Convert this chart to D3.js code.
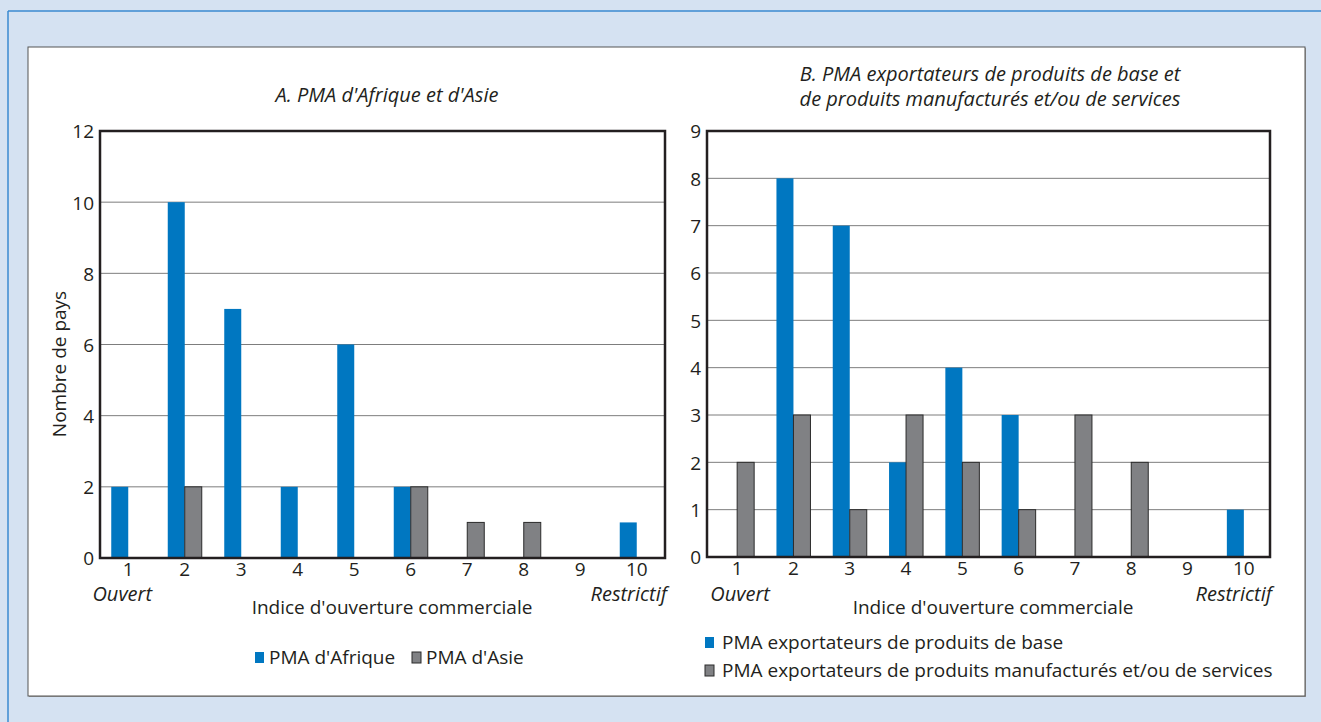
<!DOCTYPE html>
<html>
<head>
<meta charset="utf-8">
<script src="https://cdn.jsdelivr.net/npm/d3@7"></script>
<style>
  body { margin: 0; background: #fff; }
  svg text { font-family: "Open Sans", "Noto Sans", sans-serif; fill: #231f20; }
</style>
</head>
<body>
<script>
// categories of the openness index
const categories = [1, 2, 3, 4, 5, 6, 7, 8, 9, 10];

// panel A
const afriqueValues = [2, 10, 7, 2, 6, 2, 0, 0, 0, 1];
const asieValues = [0, 2, 0, 0, 0, 2, 1, 1, 0, 0];
const ticksA = [0, 2, 4, 6, 8, 10, 12];

// panel B
const baseValues = [0, 8, 7, 2, 4, 3, 0, 0, 0, 1];
const manufValues = [2, 3, 1, 3, 2, 1, 3, 2, 0, 0];
const ticksB = [0, 1, 2, 3, 4, 5, 6, 7, 8, 9];

const blue = '#0077c1';
const grey = '#808184';
const fs = '19px';   // regular text
const fsi = '20px';  // italic text

const width = 1321;
const height = 722;

const svg = d3.select('body')
  .append('svg')
  .attr('width', width)
  .attr('height', height);

// background and frame
svg.append('rect').attr('width', width).attr('height', height).attr('fill', '#d5e2f2');
svg.append('line').attr('x1', 8).attr('x2', width).attr('y1', 11).attr('y2', 11)
  .attr('stroke', '#3a8ad0').attr('stroke-width', 1.5);
svg.append('line').attr('x1', 8).attr('x2', 8).attr('y1', 11).attr('y2', height)
  .attr('stroke', '#3a8ad0').attr('stroke-width', 1.5);
svg.append('rect').attr('x', 29).attr('y', 48).attr('width', 1277).attr('height', 649)
  .attr('fill', '#9a9a9a');
svg.append('rect').attr('x', 28).attr('y', 47).attr('width', 1277).attr('height', 649)
  .attr('fill', '#fff').attr('stroke', '#555').attr('stroke-width', 1);

function drawPanel(p) {
  const g = svg.append('g');

  const y = d3.scaleLinear()
    .domain([0, d3.max(p.ticks)])
    .range([p.bottom, p.top]);

  const x = d3.scaleBand()
    .domain(p.categories)
    .range([p.left, p.right]);

  const barW = 17;

  // grid lines
  g.selectAll('.grid')
    .data(p.ticks.slice(1, -1))
    .join('line')
    .attr('x1', p.left).attr('x2', p.right)
    .attr('y1', d => y(d)).attr('y2', d => y(d))
    .attr('stroke', '#7d7d7d').attr('stroke-width', 1);

  // first series (blue)
  g.selectAll('.s1')
    .data(p.categories.map((c, i) => ({ c, v: p.s1[i] })).filter(d => d.v > 0))
    .join('rect')
    .attr('x', d => x(d.c) + x.bandwidth() / 2 - barW + p.shift)
    .attr('y', d => y(d.v))
    .attr('width', barW)
    .attr('height', d => y(0) - y(d.v))
    .attr('fill', blue);

  // second series (grey)
  g.selectAll('.s2')
    .data(p.categories.map((c, i) => ({ c, v: p.s2[i] })).filter(d => d.v > 0))
    .join('rect')
    .attr('x', d => x(d.c) + x.bandwidth() / 2 + p.shift)
    .attr('y', d => y(d.v))
    .attr('width', barW)
    .attr('height', d => y(0) - y(d.v))
    .attr('fill', grey)
    .attr('stroke', '#2b2b2b')
    .attr('stroke-width', 1);

  // frame
  g.append('rect')
    .attr('x', p.left).attr('y', p.top)
    .attr('width', p.right - p.left).attr('height', p.bottom - p.top)
    .attr('fill', 'none').attr('stroke', '#231f20').attr('stroke-width', 2.5);

  // y axis
  const yAxis = d3.axisLeft(y).tickValues(p.ticks).tickSize(0).tickPadding(6);
  g.append('g')
    .attr('transform', `translate(${p.left},0)`)
    .call(yAxis)
    .call(s => s.select('.domain').remove())
    .selectAll('text')
    .style('font-size', fs)
    .attr('dy', '0.36em');

  // x axis
  const xAxis = d3.axisBottom(x).tickSize(0).tickPadding(4);
  g.append('g')
    .attr('transform', `translate(${p.shift},${p.bottom})`)
    .call(xAxis)
    .call(s => s.select('.domain').remove())
    .selectAll('text')
    .style('font-size', fs);

  // end labels
  g.append('text').attr('x', x(1) + x.bandwidth() / 2 + p.ouvertDx).attr('y', 601)
    .attr('text-anchor', 'middle').style('font-style', 'italic').style('font-size', fsi)
    .text('Ouvert');
  g.append('text').attr('x', p.right + 2).attr('y', 601)
    .attr('text-anchor', 'end').style('font-style', 'italic').style('font-size', fsi)
    .text('Restrictif');

  // x title
  g.append('text').attr('x', p.xTitleX).attr('y', 614)
    .attr('text-anchor', 'middle').style('font-size', fs)
    .text("Indice d'ouverture commerciale");

  // panel title
  p.title.forEach((t, i) => {
    g.append('text').attr('x', p.titleX).attr('y', p.titleY + i * 25)
      .attr('text-anchor', 'middle').style('font-style', 'italic').style('font-size', fsi)
      .text(t);
  });

  return g;
}

const gA = drawPanel({
  categories, s1: afriqueValues, s2: asieValues, ticks: ticksA,
  left: 100, right: 665, top: 131, bottom: 558, shift: 0, ouvertDx: -6,
  title: ["A. PMA d'Afrique et d'Asie"], titleX: 387, titleY: 102,
  xTitleX: 392
});

const gB = drawPanel({
  categories, s1: baseValues, s2: manufValues, ticks: ticksB,
  left: 707, right: 1270, top: 131, bottom: 557, shift: 2, ouvertDx: 5,
  title: ['B. PMA exportateurs de produits de base et', 'de produits manufacturés et/ou de services'],
  titleX: 990, titleY: 81,
  xTitleX: 993
});

// y title A
svg.append('text')
  .attr('transform', 'translate(66,364) rotate(-90)')
  .attr('text-anchor', 'middle').style('font-size', fs)
  .text('Nombre de pays');

// legend A
const legendA = [
  { name: "PMA d'Afrique", color: blue, x: 255 },
  { name: "PMA d'Asie", color: grey, x: 412 }
];
legendA.forEach(d => {
  svg.append('rect').attr('x', d.x).attr('y', 652).attr('width', 9).attr('height', 11)
    .attr('fill', d.color).attr('stroke', d.color === grey ? '#2b2b2b' : 'none');
  svg.append('text').attr('x', d.x + 14).attr('y', 664).style('font-size', fs).text(d.name);
});

// legend B
const legendB = [
  { name: 'PMA exportateurs de produits de base', color: blue, y: 649 },
  { name: 'PMA exportateurs de produits manufacturés et/ou de services', color: grey, y: 677 }
];
legendB.forEach(d => {
  svg.append('rect').attr('x', 705).attr('y', d.y - 12).attr('width', 9).attr('height', 11)
    .attr('fill', d.color).attr('stroke', d.color === grey ? '#2b2b2b' : 'none');
  svg.append('text').attr('x', 722).attr('y', d.y).style('font-size', fs).text(d.name);
});
</script>
</body>
</html>
